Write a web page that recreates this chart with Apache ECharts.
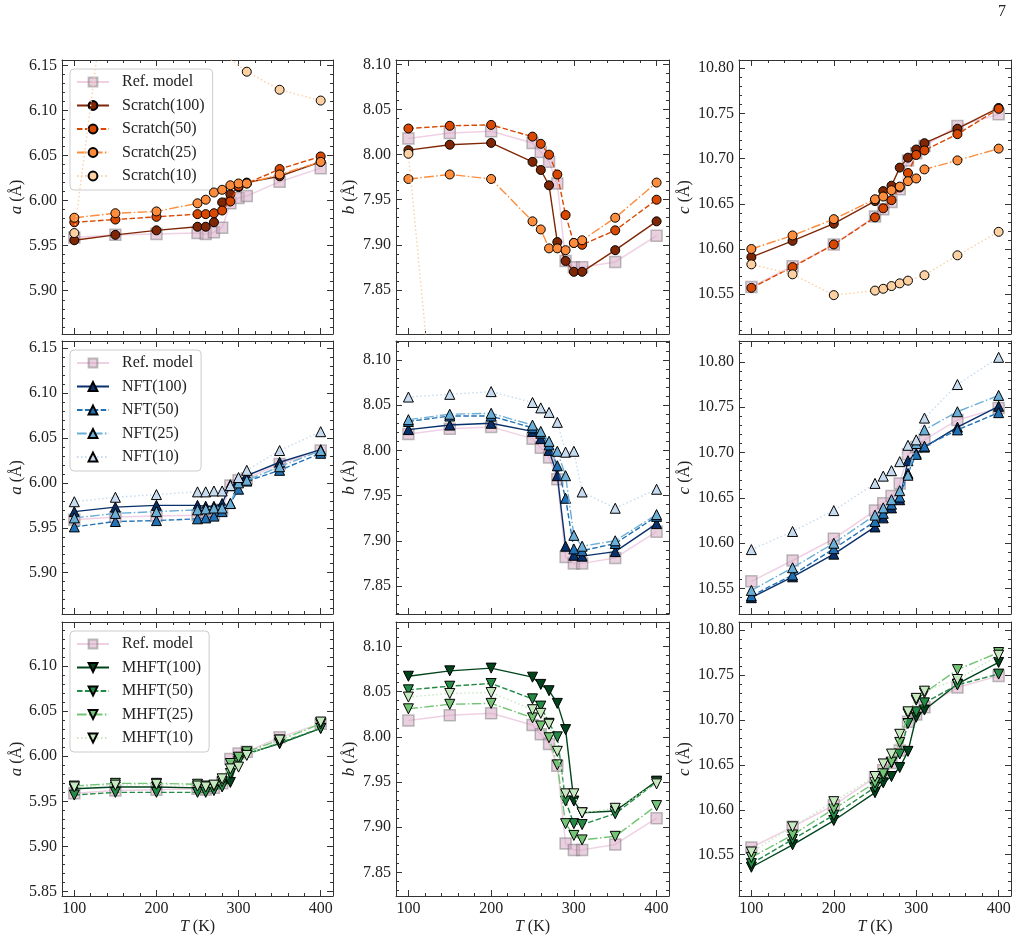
<!DOCTYPE html>
<html>
<head>
<meta charset="utf-8">
<script src="https://cdn.jsdelivr.net/npm/echarts@6/dist/echarts.min.js"></script>
<style>
  html, body { margin: 0; padding: 0; background: #fff; }
  #chart { width: 1023px; height: 943px; }
</style>
</head>
<body>
<div id="chart"></div>
<script>
// temperatures (K)
const temps = [100, 150, 200, 250, 260, 270, 280, 290, 300, 310, 350, 400]

// reference model
const refA = [5.959, 5.962, 5.963, 5.964, 5.963, 5.965, 5.970, 5.997, 6.003, 6.005, 6.021, 6.036]
const refB = [8.018, 8.024, 8.026, 8.013, 8.003, 7.992, 7.968, 7.882, 7.875, 7.875, 7.881, 7.910]
const refC = [10.558, 10.581, 10.605, 10.636, 10.644, 10.652, 10.666, 10.698, 10.706, 10.714, 10.736, 10.749]

// Scratch
const scratch100A = [5.956, 5.962, 5.967, 5.971, 5.971, 5.976, 5.998, 6.007, 6.015, 6.020, 6.027, 6.043]
const scratch50A = [5.976, 5.979, 5.982, 5.985, 5.985, 5.986, 5.989, 5.999, 6.016, 6.019, 6.035, 6.049]
const scratch25A = [5.981, 5.986, 5.988, 5.997, 6.001, 6.009, 6.012, 6.017, 6.019, 6.019, 6.029, 6.043]
const scratch10A = [5.964, 6.32, 6.31, 6.27, 6.25, 6.22, 6.19, 6.157, null, 6.143, 6.123, 6.111]
const scratch100B = [8.005, 8.011, 8.013, 7.992, 7.983, 7.966, 7.903, 7.882, 7.870, 7.870, 7.894, 7.926]
const scratch50B = [8.029, 8.032, 8.033, 8.020, 8.012, 8.000, 7.978, 7.933, 7.902, 7.900, 7.916, 7.950]
const scratch25B = [7.973, 7.978, 7.973, 7.926, 7.917, 7.896, 7.896, 7.894, 7.902, 7.905, 7.930, 7.969]
const scratch10B = [8.001, 7.52, 7.50, 7.45, 7.44, 7.43, 7.42, 7.40, null, 7.39, 7.38, 7.37]
const scratch100C = [10.591, 10.609, 10.628, 10.653, 10.664, 10.670, 10.690, 10.701, 10.710, 10.717, 10.733, 10.756]
const scratch50C = [10.557, 10.580, 10.605, 10.635, 10.645, 10.654, 10.668, 10.684, 10.704, 10.709, 10.727, 10.755]
const scratch25C = [10.600, 10.615, 10.633, 10.655, 10.658, 10.665, 10.669, 10.675, 10.678, 10.688, 10.698, 10.711]
const scratch10C = [10.583, 10.572, 10.549, 10.554, 10.556, 10.559, 10.562, 10.565, null, 10.571, 10.593, 10.619]

// NFT
const nft100A = [5.968, 5.973, 5.975, 5.975, 5.974, 5.974, 5.977, 5.998, 6.003, 6.008, 6.023, 6.037]
const nft50A = [5.951, 5.957, 5.958, 5.960, 5.961, 5.963, 5.968, 5.977, 5.993, 6.002, 6.014, 6.033]
const nft25A = [5.961, 5.966, 5.968, 5.970, 5.971, 5.972, 5.972, 5.977, 6.000, 6.003, 6.018, 6.036]
const nft10A = [5.979, 5.984, 5.987, 5.990, 5.990, 5.991, 5.991, 5.997, 6.006, 6.014, 6.036, 6.057]
const nft100B = [8.023, 8.028, 8.030, 8.021, 8.013, 8.000, 7.972, 7.894, 7.884, 7.883, 7.888, 7.919]
const nft50B = [8.032, 8.038, 8.038, 8.025, 8.019, 8.006, 7.983, 7.947, 7.891, 7.889, 7.897, 7.927]
const nft25B = [8.034, 8.040, 8.041, 8.028, 8.021, 8.010, 7.999, 7.972, 7.906, 7.894, 7.900, 7.929]
const nft10B = [8.059, 8.062, 8.065, 8.053, 8.047, 8.042, 8.031, 7.998, 7.999, 7.954, 7.936, 7.957]
const nft100C = [10.540, 10.563, 10.588, 10.618, 10.628, 10.639, 10.648, 10.691, 10.699, 10.706, 10.728, 10.751]
const nft50C = [10.542, 10.565, 10.594, 10.624, 10.633, 10.643, 10.651, 10.677, 10.698, 10.707, 10.725, 10.744]
const nft25C = [10.548, 10.573, 10.600, 10.631, 10.639, 10.648, 10.658, 10.675, 10.710, 10.725, 10.745, 10.763]
const nft10C = [10.593, 10.613, 10.636, 10.666, 10.674, 10.680, 10.690, 10.708, 10.714, 10.738, 10.775, 10.805]

// MHFT
const mhft100A = [5.964, 5.966, 5.966, 5.965, 5.965, 5.966, 5.968, 5.971, 5.997, 6.003, 6.014, 6.031]
const mhft50A = [5.957, 5.960, 5.960, 5.960, 5.960, 5.962, 5.966, 5.981, 5.994, 6.002, 6.015, 6.031]
const mhft25A = [5.967, 5.970, 5.970, 5.969, 5.967, 5.967, 5.972, 5.992, 5.999, 6.005, 6.018, 6.036]
const mhft10A = [5.966, 5.968, 5.969, 5.967, 5.966, 5.968, 5.975, 5.986, 5.988, 6.001, 6.018, 6.038]
const mhft100B = [8.067, 8.073, 8.076, 8.066, 8.058, 8.051, 8.037, 8.008, 7.929, 7.916, 7.918, 7.951]
const mhft50B = [8.052, 8.056, 8.059, 8.042, 8.034, 8.015, 8.000, 7.929, 7.904, 7.903, 7.915, 7.950]
const mhft25B = [8.031, 8.036, 8.037, 8.021, 8.012, 7.999, 7.969, 7.904, 7.891, 7.886, 7.890, 7.924]
const mhft10B = [8.044, 8.048, 8.049, 8.030, 8.026, 8.014, 7.984, 7.937, 7.937, 7.916, 7.921, 7.948]
const mhft100C = [10.536, 10.561, 10.588, 10.619, 10.630, 10.637, 10.647, 10.665, 10.703, 10.711, 10.740, 10.764]
const mhft50C = [10.540, 10.567, 10.594, 10.625, 10.637, 10.652, 10.662, 10.696, 10.709, 10.719, 10.739, 10.751]
const mhft25C = [10.547, 10.572, 10.601, 10.630, 10.640, 10.653, 10.675, 10.707, 10.722, 10.730, 10.756, 10.775]
const mhft10C = [10.553, 10.581, 10.609, 10.637, 10.651, 10.662, 10.684, 10.709, 10.724, 10.732, 10.745, 10.772]

// axis limits [row][col]
const yLimits = [
  [[5.852, 6.156], [7.801, 8.105], [10.506, 10.809]],
  [[5.854, 6.158], [7.819, 8.121], [10.522, 10.823]],
  [[5.845, 6.149], [7.824, 8.127], [10.504, 10.809]]
]
const xLimits = [85, 415]
const xMajor = [100, 200, 300, 400]
const yNames = ['a', 'b', 'c']

const familyNames = ['Scratch', 'NFT', 'MHFT']
const sizes = ['100', '50', '25', '10']
const familyColors = [
  ['#7f2704', '#d94801', '#fd8d3c', '#fdd0a2'],
  ['#08306b', '#2171b5', '#6baed6', '#c6dbef'],
  ['#00441b', '#238b45', '#74c476', '#c7e9c0']
]
const rowData = [
  [[scratch100A, scratch50A, scratch25A, scratch10A], [scratch100B, scratch50B, scratch25B, scratch10B], [scratch100C, scratch50C, scratch25C, scratch10C]],
  [[nft100A, nft50A, nft25A, nft10A], [nft100B, nft50B, nft25B, nft10B], [nft100C, nft50C, nft25C, nft10C]],
  [[mhft100A, mhft50A, mhft25A, mhft10A], [mhft100B, mhft50B, mhft25B, mhft10B], [mhft100C, mhft50C, mhft25C, mhft10C]]
]
const refs = [refA, refB, refC]

const FONT = 'Liberation Serif'
const FRAME = '#333'
const TXT = '#222'
const dashes = ['solid', [5.5, 2.4], [9.6, 2.4, 1.5, 2.4], [1.5, 2.5]]

const cols = [{ left: 62, width: 271 }, { left: 396, width: 273 }, { left: 739, width: 272 }]
const rows = [{ top: 60, height: 274 }, { top: 341, height: 273 }, { top: 622, height: 274 }]
const nameGaps = [37, 38, 46]

const grids = []
const xAxes = []
const yAxes = []
const series = []
const legends = []

const xMinor = []
for (let v = 100; v <= 400; v += 20) if (v % 100 !== 0) xMinor.push(v)

function tickSets(lim) {
  const major = []
  const minor = []
  for (let k = Math.ceil(lim[0] * 100 - 1e-6); k <= Math.floor(lim[1] * 100 + 1e-6); k++) {
    if (k % 5 === 0) major.push(k / 100)
    else minor.push(k / 100)
  }
  return { major, minor }
}

const blank = { axisLine: { show: false }, axisTick: { show: false }, axisLabel: { show: false }, splitLine: { show: false } }

rows.forEach((r, ri) => {
  cols.forEach((c, ci) => {
    const g = grids.length
    grids.push({ left: c.left, top: r.top, width: c.width, height: r.height, containLabel: false, outerBoundsMode: 'none' })
    const lineOn = { show: true, onZero: false, lineStyle: { color: FRAME, width: 1 } }
    const majT = (vals) => ({ show: true, inside: true, length: 6, customValues: vals, lineStyle: { color: FRAME, width: 1 } })
    const minT = (vals) => ({ show: true, inside: true, length: 3, customValues: vals, lineStyle: { color: FRAME, width: 1 } })
    const xb = { type: 'value', gridIndex: g, min: xLimits[0], max: xLimits[1], ...blank }
    const bottomRow = ri === rows.length - 1
    xAxes.push({
      ...xb, position: 'bottom', axisLine: lineOn, axisTick: majT(xMajor),
      axisLabel: bottomRow ? { show: true, customValues: xMajor, margin: 5, color: TXT, fontFamily: FONT, fontSize: 16 } : { show: false },
      name: bottomRow ? '{i|T} (K)' : '', nameLocation: 'middle', nameGap: 23, nameMoveOverlap: false,
      nameTextStyle: { color: TXT, fontFamily: FONT, fontSize: 16, rich: { i: { fontStyle: 'italic', fontFamily: FONT, fontSize: 16, color: TXT } } }
    })
    xAxes.push({ ...xb, position: 'bottom', axisTick: minT(xMinor) })
    xAxes.push({ ...xb, position: 'top', axisLine: lineOn, axisTick: majT(xMajor) })
    xAxes.push({ ...xb, position: 'top', axisTick: minT(xMinor) })

    const lim = yLimits[ri][ci]
    const t = tickSets(lim)
    const yb = { type: 'value', gridIndex: g, min: lim[0], max: lim[1], scale: true, ...blank }
    yAxes.push({
      ...yb, position: 'left', axisLine: lineOn, axisTick: majT(t.major),
      axisLabel: { show: true, customValues: t.major, margin: 5, color: TXT, fontFamily: FONT, fontSize: 16, formatter: v => v.toFixed(2) },
      name: '{i|' + yNames[ci] + '} (Å)', nameLocation: 'middle', nameGap: nameGaps[ci], nameMoveOverlap: false,
      nameTextStyle: { color: TXT, fontFamily: FONT, fontSize: 16, rich: { i: { fontStyle: 'italic', fontFamily: FONT, fontSize: 17, color: TXT } } }
    })
    yAxes.push({ ...yb, position: 'left', axisTick: minT(t.minor) })
    yAxes.push({ ...yb, position: 'right', axisLine: lineOn, axisTick: majT(t.major) })
    yAxes.push({ ...yb, position: 'right', axisTick: minT(t.minor) })

    const ax = g * 4
    series.push({
      name: 'Ref. model', type: 'line', xAxisIndex: ax, yAxisIndex: ax,
      data: temps.map((T, i) => [T, refs[ci][i]]),
      symbol: 'rect', symbolSize: 11,
      itemStyle: { color: 'rgba(214,170,196,0.55)', borderColor: 'rgba(110,110,110,0.45)', borderWidth: 1.5 },
      lineStyle: { color: 'rgba(222,150,196,0.45)', width: 1.5 },
      emphasis: { disabled: true }, z: 2
    })
    rowData[ri][ci].forEach((vals, k) => {
      series.push({
        name: familyNames[ri] + '(' + sizes[k] + ')', type: 'line', xAxisIndex: ax, yAxisIndex: ax,
        data: temps.map((T, i) => [T, vals[i]]),
        connectNulls: true,
        symbol: ri === 0 ? 'circle' : 'triangle',
        symbolRotate: ri === 2 ? 180 : 0,
        symbolSize: ri === 0 ? 9 : 10,
        itemStyle: { color: familyColors[ri][k], borderColor: '#000', borderWidth: 1 },
        lineStyle: { color: familyColors[ri][k], width: 1.4, type: dashes[k] },
        emphasis: { disabled: true }, z: 3 + k
      })
    })
  })
  legends.push({
    orient: 'vertical', left: 70, top: r.top + 9,
    data: ['Ref. model'].concat(sizes.map(s => familyNames[ri] + '(' + s + ')')),
    selectedMode: false,
    itemWidth: 32, itemHeight: 11, itemGap: 7.5,
    padding: [5, 8, 6, 6],
    backgroundColor: 'rgba(255,255,255,0.85)', borderColor: '#cccccc', borderWidth: 1, borderRadius: 4,
    textStyle: { color: TXT, fontFamily: FONT, fontSize: 16, padding: [0, 0, 0, 8] }
  })
})

const chart = echarts.init(document.getElementById('chart'), null, { renderer: 'canvas' })
chart.setOption({
  animation: false,
  backgroundColor: '#fff',
  grid: grids,
  xAxis: xAxes,
  yAxis: yAxes,
  legend: legends,
  series: series,
  graphic: [{ type: 'text', left: 998, top: 4, style: { text: '7', fill: TXT, font: '16px "Liberation Serif"' } }]
})
</script>
</body>
</html>
